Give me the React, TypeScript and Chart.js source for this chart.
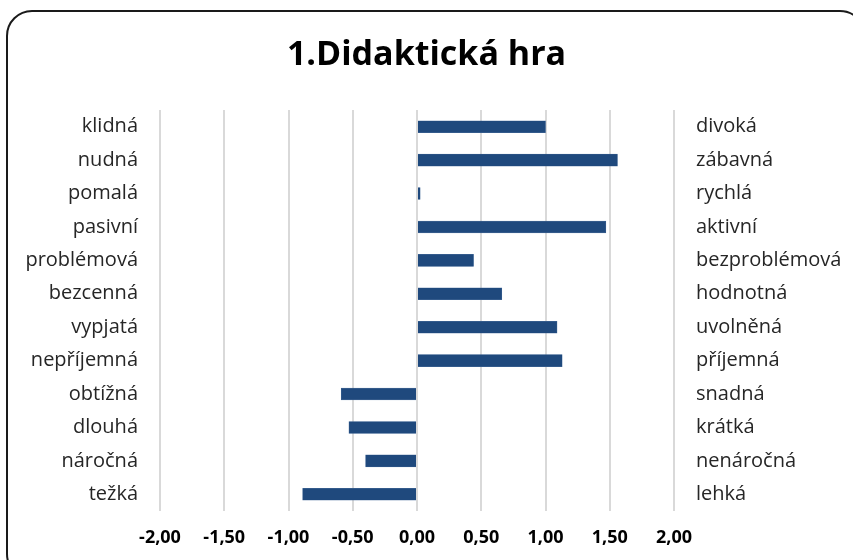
import React, { useEffect, useRef } from "react";
import { Chart, registerables } from "chart.js";

Chart.register(...registerables);

const leftLabels = ["klidná", "nudná", "pomalá", "pasivní", "problémová", "bezcenná", "vypjatá", "nepříjemná", "obtížná", "dlouhá", "náročná", "težká"];
const rightLabels = ["divoká", "zábavná", "rychlá", "aktivní", "bezproblémová", "hodnotná", "uvolněná", "příjemná", "snadná", "krátká", "nenáročná", "lehká"];
const values = [1.0, 1.56, 0.025, 1.47, 0.44, 0.66, 1.09, 1.13, -0.59, -0.53, -0.4, -0.89];
const xTicks = [-2, -1.5, -1, -0.5, 0, 0.5, 1, 1.5, 2];
const title = "1.Didaktická hra";

const FONT = "'Open Sans', Lato, sans-serif";

export default function App() {
  const ref = useRef<HTMLCanvasElement | null>(null);
  useEffect(() => {
    if (!ref.current) return;
    const chart = new Chart(ref.current, {
      type: "bar",
      data: {
        labels: leftLabels,
        datasets: [
          {
            data: values,
            backgroundColor: "#1F497D",
            borderColor: "#4a6e9c",
            borderWidth: 0.5,
            barThickness: 12,
            yAxisID: "y",
          },
        ],
      },
      options: {
        indexAxis: "y",
        responsive: false,
        animation: false,
        layout: { padding: 0 },
        plugins: {
          legend: { display: false },
          tooltip: { enabled: false },
          title: {
            display: true,
            text: title,
            color: "#000",
            font: { family: FONT, size: 34, weight: "bold", lineHeight: 1 },
            padding: { top: 38, bottom: 38 },
          },
        },
        scales: {
          x: {
            type: "linear",
            min: -2,
            max: 2,
            afterBuildTicks: (s: any) => {
              s.ticks = xTicks.map((v) => ({ value: v }));
            },
            afterFit: (s: any) => {
              s.height = 49;
            },
            grid: { color: "#d9d9d9", lineWidth: 2, drawTicks: false },
            border: { display: false },
            ticks: {
              padding: 16,
              color: "#000",
              font: { family: FONT, size: 18, weight: "bold" },
              callback: (v: any) => Number(v).toFixed(2).replace(".", ","),
            },
          },
          y: {
            type: "category",
            position: "left",
            afterFit: (s: any) => {
              s.width = 160;
            },
            grid: { display: false, drawTicks: false },
            border: { display: false },
            ticks: {
              padding: 22,
              color: "#262626",
              font: { family: FONT, size: 20 },
            },
          },
          y2: {
            type: "category",
            position: "right",
            labels: rightLabels,
            afterFit: (s: any) => {
              s.width = 179;
            },
            grid: { display: false, drawTicks: false },
            border: { display: false },
            ticks: {
              padding: 22,
              color: "#262626",
              font: { family: FONT, size: 20 },
            },
          },
        },
      },
    } as any);
    return () => chart.destroy();
  }, []);

  return (
    <div style={{ position: "absolute", left: 0, top: 0, width: 853, height: 560, overflow: "hidden", background: "#fff" }}>
      <div
        style={{
          position: "absolute",
          left: 6,
          top: 10,
          width: 860,
          height: 570,
          border: "2px solid #1a1a1a",
          borderRadius: 26,
          boxSizing: "border-box",
        }}
      />
      <canvas ref={ref} width={853} height={560} style={{ position: "absolute", left: 0, top: 0 }} />
    </div>
  );
}
